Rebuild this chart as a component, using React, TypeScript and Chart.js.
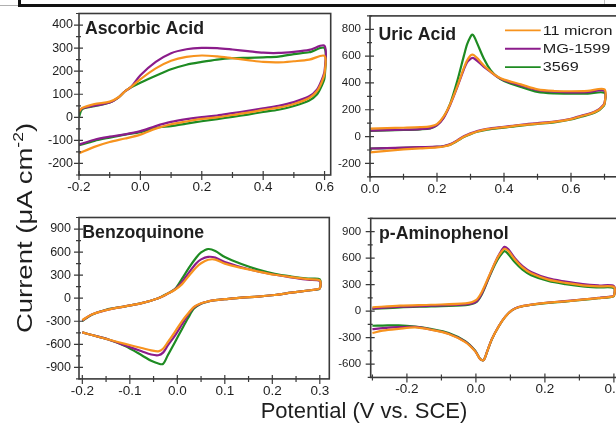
import React, { useEffect, useRef } from 'react';
import { Chart, registerables } from 'chart.js';

Chart.register(...registerables);

const FONT = "'Liberation Sans', Arial, Helvetica, sans-serif";
const TEXT = '#1e1e1e';
const AXIS = '#3a3a3a';
const ORANGE = '#F7931E';
const PURPLE = '#8B1C8B';
const GREEN = '#1E8B22';

const seriesNames = ['11 micron', 'MG-1599', '3569'];
const seriesColors = [ORANGE, PURPLE, GREEN];

// ---------- Ascorbic Acid ----------
const ascorbicPotential = [
  -0.2, -0.19, -0.15, -0.1, -0.07, -0.05, -0.03, 0.0, 0.05, 0.1, 0.15, 0.2, 0.25, 0.3, 0.35, 0.4, 0.45, 0.5, 0.55, 0.6,
  0.6, 0.59, 0.575, 0.55, 0.5, 0.45, 0.4, 0.35, 0.3, 0.25, 0.2, 0.15, 0.1, 0.05, 0.0, -0.05, -0.1, -0.15, -0.2,
];
const ascorbic11Micron = [
  25, 40, 57, 68, 88, 113, 132, 165, 212, 245, 262, 268, 264, 256, 248, 240, 238, 243, 250, 266,
  190, 150, 113, 84, 58, 42, 32, 20, 10, 0, -7, -18, -30, -49, -75, -92, -107, -128, -156,
];
const ascorbicMG1599 = [
  25, 38, 50, 64, 88, 113, 132, 182, 240, 278, 295, 301, 300, 294, 287, 280, 279, 284, 292, 310,
  200, 160, 120, 91, 66, 50, 39, 28, 18, 8, 1, -8, -20, -38, -60, -74, -84, -97, -118,
];
const ascorbic3569 = [
  0, 35, 48, 64, 88, 113, 130, 150, 180, 208, 228, 240, 250, 256, 258, 260, 263, 274, 282, 300,
  172, 135, 99, 73, 49, 33, 23, 12, 2, -8, -17, -27, -38, -46, -64, -75, -88, -102, -121,
];
const ascorbicXTicks = [-0.2, 0, 0.2, 0.4, 0.6];
const ascorbicYTicks = [-200, -100, 0, 100, 200, 300, 400];

// ---------- Uric Acid ----------
const uricPotential = [
  0.0, 0.05, 0.1, 0.15, 0.18, 0.2, 0.22, 0.24, 0.26, 0.28, 0.29, 0.3, 0.305, 0.31, 0.32, 0.34, 0.36, 0.38, 0.4, 0.45, 0.5, 0.55, 0.6, 0.65, 0.7,
  0.7, 0.69, 0.68, 0.66, 0.63, 0.6, 0.55, 0.5, 0.45, 0.4, 0.35, 0.32, 0.3, 0.28, 0.26, 0.24, 0.22, 0.2, 0.15, 0.1, 0.05, 0.0,
];
const uric11Micron = [
  60, 63, 66, 70, 76, 92, 150, 245, 370, 510, 570, 605, 611, 608, 585, 530, 485, 448, 425, 389, 352, 340, 338, 341, 352,
  245, 214, 194, 172, 152, 130, 109, 96, 85, 70, 55, 38, 20, -2, -32, -60, -74, -80, -88, -96, -106, -118,
];
const uricMG1599 = [
  45, 48, 51, 56, 63, 85, 140, 240, 365, 500, 555, 580, 586, 584, 565, 520, 483, 445, 420, 382, 346, 335, 329, 332, 341,
  250, 218, 198, 175, 155, 133, 112, 100, 88, 73, 58, 42, 24, 2, -28, -56, -70, -75, -79, -83, -86, -89,
];
const uric3569 = [
  43, 46, 49, 54, 61, 85, 145, 250, 410, 600, 690, 745, 760, 750, 695, 580, 495, 445, 415, 370, 333, 322, 321, 321, 326,
  240, 210, 190, 168, 148, 127, 106, 94, 82, 67, 52, 36, 18, -4, -34, -60, -72, -77, -80, -84, -86, -89,
];
const uricXTicks = [0, 0.2, 0.4, 0.6];
const uricYTicks = [-200, 0, 200, 400, 600, 800];

// ---------- Benzoquinone ----------
const benzoPotential = [
  -0.2, -0.18, -0.15, -0.11, -0.075, -0.04, -0.02, -0.005, 0.01, 0.025, 0.04, 0.05, 0.065, 0.08, 0.1, 0.135, 0.17, 0.205, 0.24, 0.275, 0.3,
  0.3, 0.29, 0.275, 0.24, 0.205, 0.17, 0.135, 0.1, 0.08, 0.065, 0.05, 0.035, 0.023, 0.01, -0.005, -0.02, -0.03, -0.04, -0.055, -0.075, -0.11, -0.145, -0.18, -0.2,
];
const benzo11Micron = [
  -285, -212, -155, -106, -64, 0, 60, 110, 183, 296, 402, 455, 500, 502, 450, 394, 347, 305, 275, 248, 232,
  130, 112, 100, 72, 42, 21, 8, -13, -26, -42, -66, -112, -195, -297, -437, -572, -657, -691, -678, -648, -595, -538, -479, -445,
];
const benzoMG1599 = [
  -290, -212, -155, -106, -64, 0, 60, 114, 212, 339, 455, 505, 538, 528, 470, 402, 347, 305, 272, 240, 222,
  128, 111, 100, 72, 42, 21, 8, -13, -26, -42, -68, -120, -212, -339, -487, -615, -708, -742, -733, -691, -615, -538, -479, -445,
];
const benzo3569 = [
  -297, -215, -150, -106, -64, 0, 63, 118, 254, 400, 529, 595, 640, 615, 535, 444, 372, 317, 282, 255, 246,
  127, 110, 100, 72, 42, 21, 8, -13, -26, -43, -72, -135, -255, -400, -572, -742, -855, -850, -815, -742, -623, -538, -479, -445,
];
const benzoXTicks = [-0.2, -0.1, 0, 0.1, 0.2, 0.3];
const benzoYTicks = [-900, -600, -300, 0, 300, 600, 900];

// ---------- p-Aminophenol ----------
const aminoPotential = [
  -0.3, -0.22, -0.13, -0.03, 0.0, 0.017, 0.037, 0.056, 0.07, 0.083, 0.094, 0.113, 0.135, 0.16, 0.21, 0.26, 0.31, 0.355, 0.4,
  0.4, 0.39, 0.355, 0.307, 0.258, 0.21, 0.162, 0.123, 0.104, 0.085, 0.066, 0.046, 0.032, 0.022, 0.012, -0.002, -0.031, -0.079, -0.128, -0.176, -0.224, -0.27, -0.3,
];
const amino11Micron = [
  44, 62, 73, 88, 124, 218, 389, 555, 650, 706, 680, 585, 495, 428, 357, 320, 293, 280, 273,
  172, 162, 148, 130, 111, 96, 74, 45, 9, -63, -172, -319, -463, -556, -540, -455, -350, -258, -212, -184, -200, -220, -247,
];
const aminoMG1599 = [
  30, 50, 62, 76, 105, 200, 380, 555, 660, 728, 700, 600, 510, 444, 371, 335, 306, 291, 284,
  175, 165, 150, 132, 113, 98, 75, 46, 10, -62, -170, -318, -462, -556, -540, -452, -345, -255, -210, -178, -180, -192, -203,
];
const amino3569 = [
  26, 44, 55, 69, 99, 189, 371, 535, 626, 680, 644, 553, 470, 408, 342, 306, 280, 269, 262,
  171, 160, 146, 128, 109, 95, 73, 44, 8, -65, -174, -320, -465, -556, -538, -447, -338, -247, -203, -174, -160, -163, -165,
];
const aminoXTicks = [-0.2, 0, 0.2, 0.4];
const aminoYTicks = [-600, -300, 0, 300, 600, 900];

type Rect = { l: number; t: number; r: number; b: number };
type Box = { x: number; y: number; w: number; h: number };
type PanelDef = {
  key: string;
  title: string;
  titleDx: number;
  titleDy: number;
  potential: number[];
  currents: number[][];
  xMin: number; xMax: number; yMin: number; yMax: number;
  xTicks: number[]; yTicks: number[];
  xMinor: number; yMinor: number;
  yFont: number; yPad: number;
  area: Rect; box: Box;
  legend?: boolean;
};

const panels: PanelDef[] = [
  {
    key: 'aa', title: 'Ascorbic Acid', titleDx: 6, titleDy: 20.5,
    potential: ascorbicPotential, currents: [ascorbic11Micron, ascorbicMG1599, ascorbic3569],
    xMin: -0.2, xMax: 0.62, yMin: -250, yMax: 450,
    xTicks: ascorbicXTicks, yTicks: ascorbicYTicks, xMinor: 0.1, yMinor: 50,
    yFont: 12.5, yPad: 6,
    area: { l: 79, t: 11, r: 330.7, b: 175 }, box: { x: 20, y: 0, w: 320, h: 200 },
  },
  {
    key: 'ua', title: 'Uric Acid', titleDx: 8.5, titleDy: 24,
    potential: uricPotential, currents: [uric11Micron, uricMG1599, uric3569],
    xMin: 0, xMax: 0.75, yMin: -300, yMax: 900,
    xTicks: uricXTicks, yTicks: uricYTicks, xMinor: 0.1, yMinor: 100,
    yFont: 11.5, yPad: 9,
    area: { l: 370, t: 11.5, r: 621.25, b: 176.8 }, box: { x: 335, y: 0, w: 300, h: 200 },
    legend: true,
  },
  {
    key: 'bq', title: 'Benzoquinone', titleDx: 3.3, titleDy: 20,
    potential: benzoPotential, currents: [benzo11Micron, benzoMG1599, benzo3569],
    xMin: -0.207, xMax: 0.32, yMin: -1050, yMax: 1050,
    xTicks: benzoXTicks, yTicks: benzoYTicks, xMinor: 0.05, yMinor: 150,
    yFont: 12.5, yPad: 8,
    area: { l: 79, t: 213.7, r: 329.3, b: 378.9 }, box: { x: 20, y: 202, w: 320, h: 204 },
  },
  {
    key: 'ap', title: 'p-Aminophenol', titleDx: 8.3, titleDy: 20.8,
    potential: aminoPotential, currents: [amino11Micron, aminoMG1599, amino3569],
    xMin: -0.305, xMax: 0.42, yMin: -750, yMax: 1050,
    xTicks: aminoXTicks, yTicks: aminoYTicks, xMinor: 0.1, yMinor: 150,
    yFont: 11.5, yPad: 9.5,
    area: { l: 370.7, t: 212.45, r: 620.8, b: 377.45 }, box: { x: 335, y: 202, w: 300, h: 204 },
  },
];

function minorValues(min: number, max: number, step: number, majors: number[]) {
  const out: number[] = [];
  for (let k = Math.ceil(min / step - 1e-6); k * step <= max + 1e-9; k++) {
    const v = k * step;
    if (majors.some((m) => Math.abs(m - v) < 1e-6)) continue;
    out.push(v);
  }
  return out;
}

function Panel({ def }: { def: PanelDef }) {
  const ref = useRef<HTMLCanvasElement | null>(null);

  useEffect(() => {
    const canvas = ref.current;
    if (!canvas) return;
    const { area, box } = def;

    const decor = {
      id: 'decor_' + def.key,
      afterDatasetsDraw(chart: any) {
        const { ctx, chartArea: a, scales } = chart;
        const xs = scales.x;
        const ys = scales.y;
        ctx.save();
        // frame
        ctx.strokeStyle = AXIS;
        ctx.lineWidth = 1.6;
        ctx.strokeRect(a.left, a.top, a.right - a.left, a.bottom - a.top);
        // ticks
        ctx.lineWidth = 1.2;
        ctx.beginPath();
        def.xTicks.forEach((v) => {
          const p = xs.getPixelForValue(v);
          ctx.moveTo(p, a.bottom + 5);
          ctx.lineTo(p, a.bottom - 4);
        });
        minorValues(def.xMin, def.xMax, def.xMinor, def.xTicks).forEach((v) => {
          const p = xs.getPixelForValue(v);
          ctx.moveTo(p, a.bottom + 3);
          ctx.lineTo(p, a.bottom - 3);
        });
        def.yTicks.forEach((v) => {
          const p = ys.getPixelForValue(v);
          ctx.moveTo(a.left - 5, p);
          ctx.lineTo(a.left + 4, p);
        });
        minorValues(def.yMin, def.yMax, def.yMinor, def.yTicks).forEach((v) => {
          const p = ys.getPixelForValue(v);
          ctx.moveTo(a.left - 3, p);
          ctx.lineTo(a.left + 2, p);
        });
        ctx.stroke();
        // title
        ctx.fillStyle = TEXT;
        ctx.font = `bold 17.7px ${FONT}`;
        ctx.textAlign = 'left';
        ctx.textBaseline = 'alphabetic';
        ctx.fillText(def.title, a.left + def.titleDx, a.top + def.titleDy);
        // legend
        if (def.legend) {
          chart.data.datasets.forEach((ds: any, i: number) => {
            const y = a.top + 14.5 + i * 18.35;
            ctx.strokeStyle = ds.borderColor;
            ctx.lineWidth = 1.8;
            ctx.beginPath();
            ctx.moveTo(a.left + 135, y);
            ctx.lineTo(a.left + 170.7, y);
            ctx.stroke();
            ctx.save();
            ctx.translate(a.left + 172.7, y);
            ctx.scale(1.2, 1);
            ctx.font = `13.5px ${FONT}`;
            ctx.fillStyle = TEXT;
            ctx.textBaseline = 'middle';
            ctx.fillText(ds.label, 0, 0.5);
            ctx.restore();
          });
        }
        ctx.restore();
      },
    };

    const chart = new Chart(canvas, {
      type: 'scatter',
      data: {
        datasets: def.currents.map((cur, i) => ({
          label: seriesNames[i],
          data: def.potential.map((x, j) => ({ x, y: cur[j] })),
          borderColor: seriesColors[i],
          backgroundColor: seriesColors[i],
          borderWidth: 2.2,
          pointRadius: 0,
          showLine: true,
          tension: 0.3,
          fill: false,
        })),
      },
      options: {
        responsive: false,
        animation: false,
        devicePixelRatio: 1,
        events: [],
        layout: {
          padding: {
            top: area.t - box.y,
            right: box.x + box.w - area.r,
            left: 0,
            bottom: 0,
          },
        },
        plugins: { legend: { display: false }, tooltip: { enabled: false } },
        scales: {
          x: {
            type: 'linear',
            min: def.xMin,
            max: def.xMax,
            afterFit: (s: any) => { s.height = box.y + box.h - area.b; },
            afterBuildTicks: (s: any) => { s.ticks = def.xTicks.map((v) => ({ value: v })); },
            grid: { display: false, drawTicks: false },
            border: { display: false },
            ticks: {
              padding: 4,
              color: TEXT,
              autoSkip: false,
              maxRotation: 0,
              font: { family: FONT, size: 13.5 },
              callback: (v: any) => Number(v).toFixed(1),
            },
          },
          y: {
            type: 'linear',
            min: def.yMin,
            max: def.yMax,
            afterFit: (s: any) => { s.width = area.l - box.x; },
            afterBuildTicks: (s: any) => { s.ticks = def.yTicks.map((v) => ({ value: v })); },
            grid: { display: false, drawTicks: false },
            border: { display: false },
            ticks: {
              padding: def.yPad,
              color: TEXT,
              autoSkip: false,
              font: { family: FONT, size: def.yFont },
              callback: (v: any) => String(Math.round(Number(v))),
            },
          },
        },
      },
      plugins: [decor],
    } as any);

    return () => chart.destroy();
  }, [def]);

  return (
    <canvas
      ref={ref}
      width={def.box.w}
      height={def.box.h}
      style={{ position: 'absolute', left: def.box.x, top: def.box.y, width: def.box.w, height: def.box.h }}
    />
  );
}

export default function App() {
  return (
    <div
      style={{
        position: 'fixed', left: 0, top: 0, width: 616, height: 426,
        overflow: 'hidden', background: '#fff', fontFamily: FONT, color: TEXT,
      }}
    >
      {/* remnant of the frame above */}
      <div style={{ position: 'absolute', left: 0, top: 5, width: 18, height: 1, background: '#b0b0b0' }} />
      <div
        style={{
          position: 'absolute', left: 18, top: -10, width: 700, height: 14,
          borderLeft: '3px solid #111', borderBottom: '3px solid #111',
        }}
      />
      <div style={{ position: 'absolute', left: 604, top: 0, width: 1, height: 4, background: '#c0c0c0' }} />

      {panels.map((p) => (
        <Panel key={p.key} def={p} />
      ))}

      {/* y-axis title */}
      <div
        style={{
          position: 'absolute', left: 25.3 - 140, top: 228 - 11, width: 280, height: 22,
          lineHeight: '22px', fontSize: 22, textAlign: 'center', whiteSpace: 'nowrap',
          transform: 'rotate(-90deg) scaleX(1.25)', transformOrigin: '50% 50%',
        }}
      >
        Current (μA cm<span style={{ fontSize: 14, position: 'relative', top: -9 }}>-2</span>)
      </div>

      {/* x-axis title */}
      <div
        style={{
          position: 'absolute', left: 364 - 150, top: 399.7, width: 300, height: 22,
          lineHeight: '22px', fontSize: 22, textAlign: 'center', whiteSpace: 'nowrap',
        }}
      >
        Potential (V vs. SCE)
      </div>
    </div>
  );
}
